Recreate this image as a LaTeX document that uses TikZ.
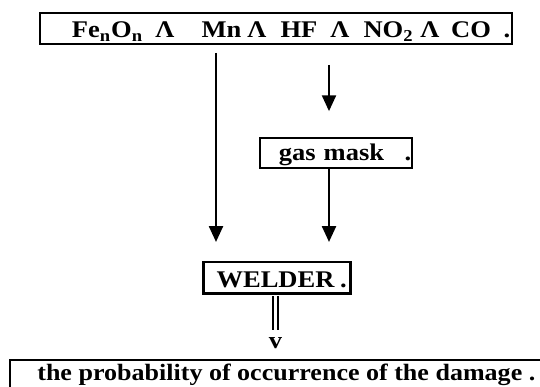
\documentclass[tikz,border=0pt]{standalone}
\usepackage{fontspec}
\setmainfont[FakeStretch=1.11]{Liberation Serif}
\usepackage{tikz}
\usetikzlibrary{arrows.meta, positioning}

\newlength\px
\setlength\px{0.02cm}
% one piece of text, centred dx pixels to the right of the previous one
\newcommand\piece[2]{\hspace*{#1\px}\makebox[0pt]{#2}}

\begin{document}
\begin{tikzpicture}[x=0.02cm, y=-0.02cm, font=\bfseries\fontsize{13.6}{15}\selectfont,
            box/.style={draw, rectangle, line width=1.2pt, inner sep=0pt, align=left, text depth=0pt},
            arr/.style={-{Triangle[width=8pt, length=9pt]}, line width=1.1pt}]
            \useasboundingbox (0,0) rectangle (540,386);
            \clip (0,0) rectangle (540,386);

            \node[box, text width=472\px, minimum height=31\px, text height=10.2pt] (fumes) at (276,28.5)
                {\piece{67.5}{Fe\textsubscript{n}O\textsubscript{n}}\piece{57.5}{Λ}\piece{56.5}{Mn}\piece{35.5}{Λ}\piece{42}{HF}%
                 \piece{41}{Λ}\piece{48.5}{NO\textsubscript{2}}\piece{41.5}{Λ}\piece{41}{CO}\piece{36}{.}};
            \node[box, text width=152\px, minimum height=30\px, text height=9pt] (mask) at (336,153)
                {\piece{71.5}{gas mask}\piece{76.5}{.}};
            \node[box, text width=147\px, minimum height=31.5\px, text height=10.9pt] (welder) at (277,277.7)
                {\piece{72}{WELDER}\piece{68}{.}};
            \node[inner sep=0pt, anchor=base] (v) at (275.5,348) {v};
            \node[box, minimum width=560\px, minimum height=50\px, anchor=north west] (damage) at (9,359) {};
            \node[inner sep=0pt, anchor=base west, font=\bfseries\fontsize{13.35}{15}\selectfont] (damagetext) at (37,380)
                {the probability of occurrence of the damage .};

            \coordinate (leftline) at (216,0);
            \coordinate (rightline) at (329,0);

            \draw[arr, shorten <=4.5pt, shorten >=10.8pt] (fumes.south -| leftline) -- (welder.north -| leftline);
            \draw[arr, shorten <=11.3pt, shorten >=14.7pt] (fumes.south -| rightline) -- (mask.north -| rightline);
            \draw[arr, shorten >=10.8pt] (mask.south -| rightline) -- (welder.north -| rightline);
            \draw[double, double distance=1.5pt, line width=1.1pt, shorten <=1pt, shorten >=4pt] (welder.south -| v) -- (v.north);
\end{tikzpicture}
\end{document}
